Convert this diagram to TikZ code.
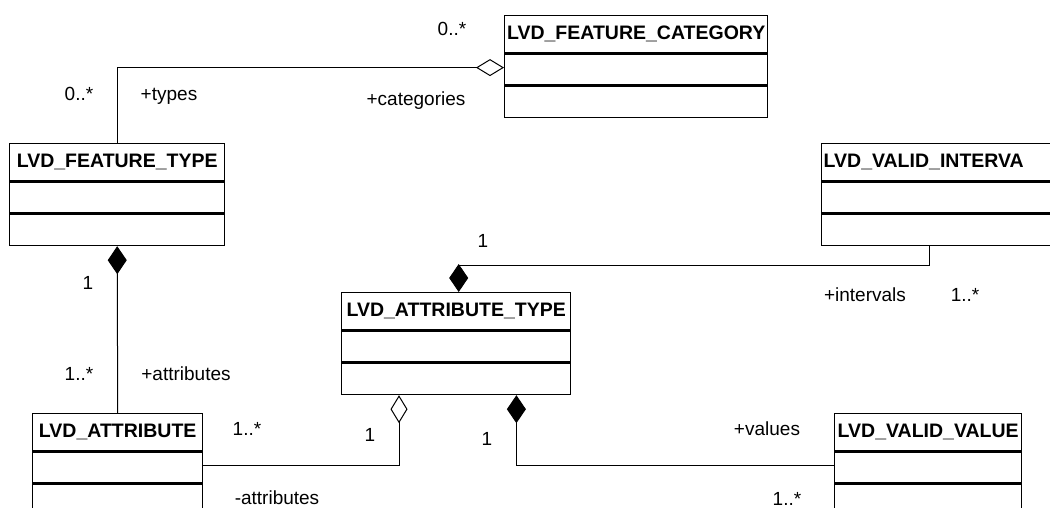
\documentclass[tikz,border=0pt]{standalone}
\usepackage{fontspec}
\setmainfont{Liberation Sans}
\usetikzlibrary{arrows.meta, positioning}

\begin{document}
\begin{tikzpicture}[x=1pt, y=-1pt,
  font=\fontsize{19}{22}\selectfont,
  classhead/.style={draw, line width=1.4pt, minimum height=37pt, inner sep=0pt,
    anchor=north west, font=\fontsize{19.5}{22}\selectfont\bfseries},
  classpart/.style={draw, line width=1.4pt, minimum height=31pt, inner sep=0pt},
  lbl/.style={anchor=base, inner sep=0pt},
  assoc/.style={line width=1pt},
  aggr/.style={assoc, arrows={Diamond[open, length=28pt, width=17pt]-}},
  comp/.style={assoc, arrows={Diamond[length=28pt, width=19pt]-}}]
\clip (0,0) rectangle (1050,508);

% LVD_FEATURE_CATEGORY
\node[classhead, minimum width=263pt] (cat) at (504,15) {LVD\_FEATURE\_CATEGORY};
\node[classpart, minimum width=263pt, below=0pt of cat] (catA) {};
\node[classpart, minimum width=263pt, below=0pt of catA] (catO) {};

% LVD_FEATURE_TYPE
\node[classhead, minimum width=215pt] (ft) at (9,143) {LVD\_FEATURE\_TYPE};
\node[classpart, minimum width=215pt, below=0pt of ft] (ftA) {};
\node[classpart, minimum width=215pt, below=0pt of ftA] (ftO) {};

% LVD_VALID_INTERVAL (cut by the edge)
\node[classhead, text width=236pt, inner xsep=2pt, align=left] (vi) at (821,143) {LVD\_VALID\_INTERVA};
\node[classpart, minimum width=240pt, below=0pt of vi] (viA) {};
\node[classpart, minimum width=240pt, below=0pt of viA] (viO) {};

% LVD_ATTRIBUTE_TYPE
\node[classhead, minimum width=229pt] (at) at (341,292) {LVD\_ATTRIBUTE\_TYPE};
\node[classpart, minimum width=229pt, below=0pt of at] (atA) {};
\node[classpart, minimum width=229pt, below=0pt of atA] (atO) {};

% LVD_ATTRIBUTE
\node[classhead, minimum width=170pt] (attr) at (32,413) {LVD\_ATTRIBUTE};
\node[classpart, minimum width=170pt, below=0pt of attr] (attrA) {};
\node[classpart, minimum width=170pt, below=0pt of attrA] (attrO) {};

% LVD_VALID_VALUE
\node[classhead, minimum width=187pt] (vv) at (834,413) {LVD\_VALID\_VALUE};
\node[classpart, minimum width=187pt, below=0pt of vv] (vvA) {};
\node[classpart, minimum width=187pt, below=0pt of vvA] (vvO) {};

% associations
\draw[aggr] ([yshift=2pt]catA.west) -| (ft.north);
\draw[comp] (ftO.south) -- (attr.north);
\coordinate (viLow) at ([xshift=108pt]viO.south west);
\draw[comp] ([xshift=2.5pt]at.north) -- ++(0,-27) -| (viLow);
\draw[aggr] ([xshift=58pt]atO.south west) |- ([yshift=2pt]attrA.east);
\draw[comp] ([xshift=-55pt]atO.south east) |- ([yshift=2pt]vvA.west);

% roles and multiplicities
\node[lbl] (catMult) at (452,36) {0..*};
\node[lbl] (catRole) at (416,106) {+categories};
\node[lbl] (ftMult) at (79,101) {0..*};
\node[lbl] (ftRole) at (169,101) {+types};
\node[lbl] (ftOne) at (88,289) {1};
\node[lbl] (attrMult) at (79,380) {1..*};
\node[lbl] (attrRole) at (186,380) {+attributes};
\node[lbl] (atOne) at (483,247) {1};
\node[lbl] (viRole) at (865,301) {+intervals};
\node[lbl] (viMult) at (965,301) {1..*};
\node[lbl] (attrMultB) at (247,435) {1..*};
\node[lbl] (atOneB) at (370,441) {1};
\node[lbl] (attrRoleB) at (277,504) {-attributes};
\node[lbl] (atOneC) at (487,445) {1};
\node[lbl] (vvRole) at (767,435) {+values};
\node[lbl] (vvMult) at (787,505) {1..*};
\end{tikzpicture}
\end{document}
